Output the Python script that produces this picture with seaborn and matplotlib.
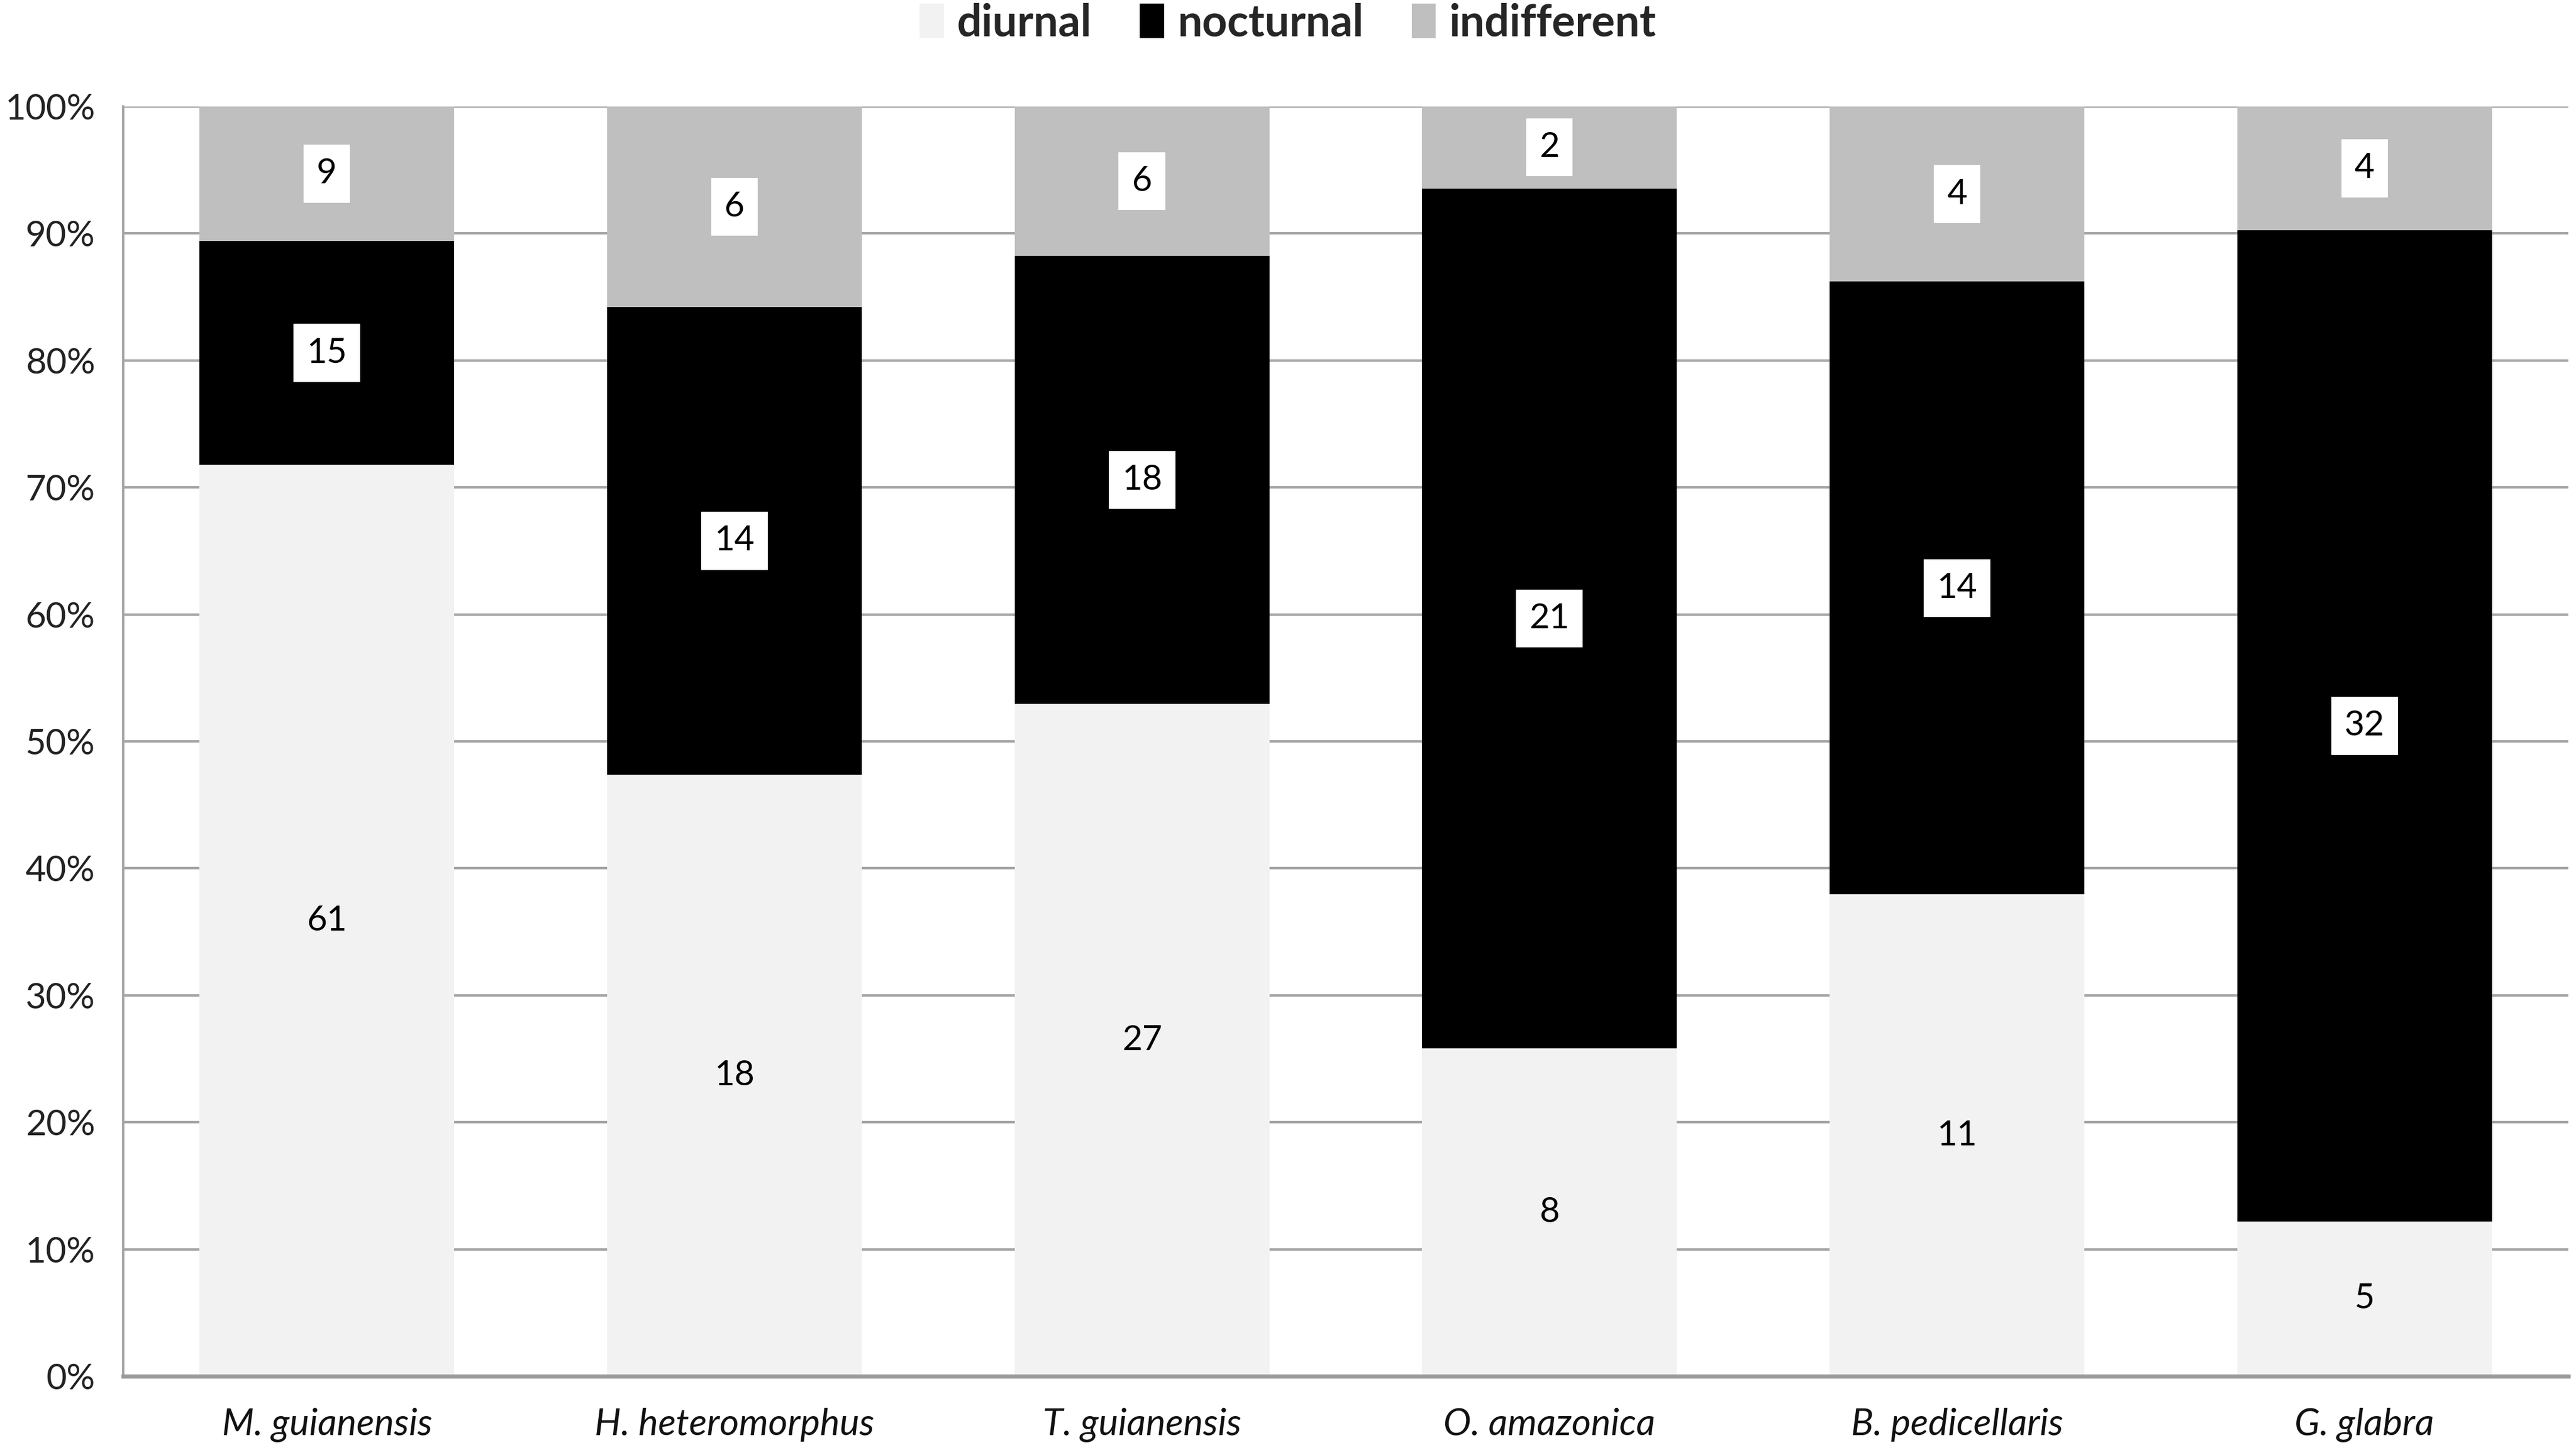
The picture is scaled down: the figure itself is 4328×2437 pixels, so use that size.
import numpy as np
import pandas as pd
import matplotlib
matplotlib.use("Agg")
import matplotlib.pyplot as plt
import seaborn as sns
from matplotlib.patches import Patch

species = ["M. guianensis", "H. heteromorphus", "T. guianensis",
           "O. amazonica", "B. pedicellaris", "G. glabra"]
diurnal = [61, 18, 27, 8, 11, 5]
nocturnal = [15, 14, 18, 21, 14, 32]
indifferent = [9, 6, 6, 2, 4, 4]
series_names = ["diurnal", "nocturnal", "indifferent"]
colors = ["#f2f2f2", "#000000", "#bfbfbf"]
yticks_pct = [0, 10, 20, 30, 40, 50, 60, 70, 80, 90, 100]

sns.set_theme(style="white")
plt.rcParams['font.family'] = ['Lato', 'DejaVu Sans']

counts = np.array([diurnal, nocturnal, indifferent], dtype=float)
totals = counts.sum(axis=0)
pct = counts / totals * 100

fig = plt.figure(figsize=(43.28, 24.37), dpi=100)
ax = fig.add_axes([0.0478, 0.0509, 0.9492, 0.8757])

grid_c = "#a6a6a6"
for y in yticks_pct:
    ax.axhline(y, color=grid_c, lw=3, zorder=0)

bottom = np.zeros(len(species))
for k in range(3):
    df = pd.DataFrame({"species": species, "val": pct[k]})
    sns.barplot(data=df, x="species", y="val", color=colors[k], width=0.625,
                bottom=bottom, ax=ax, saturation=1, linewidth=0, zorder=2,
                order=species)
    for i in range(len(species)):
        yc = bottom[i] + pct[k][i] / 2
        lab = str(int(counts[k][i]))
        if k == 0:
            ax.text(i, yc, lab, ha="center", va="center", fontsize=42,
                    color="black", zorder=5)
        else:
            ax.text(i, yc, lab, ha="center", va="center", fontsize=42,
                    color="black", zorder=5,
                    bbox=dict(boxstyle="square,pad=0.38", fc="white", ec="none"))
    bottom = bottom + pct[k]

ax.set_xlim(-0.5, len(species) - 0.5)
ax.set_ylim(0, 100)
ax.set_yticks(yticks_pct)
ax.set_yticklabels([f"{v}%" for v in yticks_pct], fontsize=43, color="#222222")
ax.set_xticks(range(len(species)))
ax.set_xticklabels(species, fontsize=45, style="italic", color="#111111")
ax.set_xlabel("")
ax.set_ylabel("")

# category boundary tick marks on x axis
ax.set_xticks(np.arange(-0.5, len(species), 1.0), minor=True)
ax.tick_params(axis="x", which="major", length=0, pad=38)
ax.tick_params(axis="x", which="minor", length=22, width=3, color=grid_c, direction="out")
ax.tick_params(axis="y", which="major", length=22, width=3, color=grid_c, direction="out", pad=12)

for s in ["top", "right"]:
    ax.spines[s].set_visible(False)
ax.spines["left"].set_color(grid_c)
ax.spines["left"].set_linewidth(3)
ax.spines["bottom"].set_color("#999999")
ax.spines["bottom"].set_linewidth(5)

handles = [Patch(facecolor=c, edgecolor="none", label=n) for c, n in zip(colors, series_names)]
leg = fig.legend(handles=handles, loc="center", bbox_to_anchor=(0.5, 1 - 39 / 2437), ncol=3,
                 frameon=False, prop={"weight": "bold", "size": 53},
                 handlelength=0.55, handleheight=0.85, handletextpad=0.3, columnspacing=1.1)

fig.savefig("out.png", dpi=100)
